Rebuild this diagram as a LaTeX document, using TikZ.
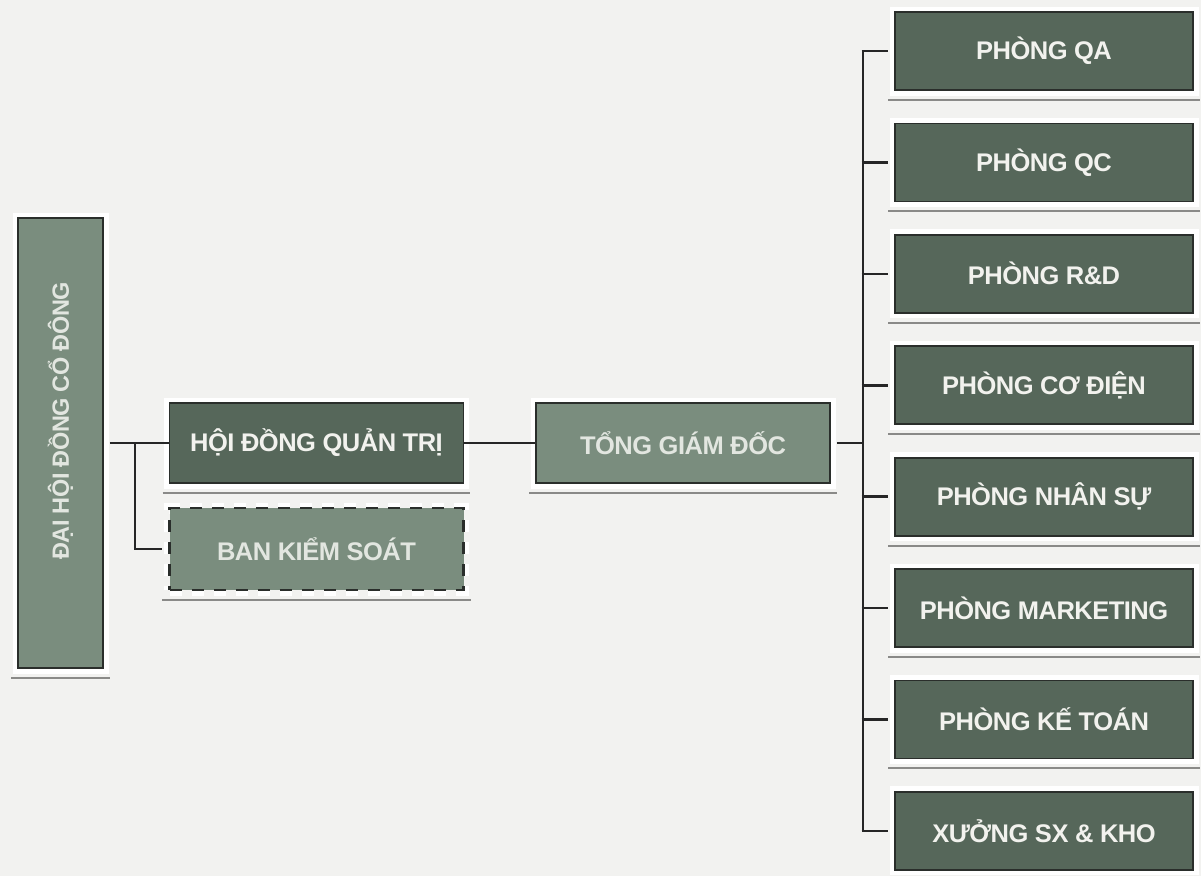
\documentclass[tikz,border=0pt]{standalone}
\usepackage{fontspec}
\setmainfont{Liberation Sans}
\newfontfamily\boxfont[LetterSpace=-2]{Liberation Sans}
\definecolor{bg}{HTML}{F2F2F0}
\definecolor{darkbox}{HTML}{56675A}
\definecolor{lightbox}{HTML}{7A8D7E}
\definecolor{edge}{HTML}{2A2E2B}
\definecolor{txt}{HTML}{F2F2EE}
\definecolor{txtlight}{HTML}{E2E6E0}
\definecolor{shade}{HTML}{8A8A88}
\begin{document}
\begin{tikzpicture}[x=1pt,y=-1pt,
  base/.style={draw=edge, line width=1.8pt, text=txt, inner sep=0pt,
    font=\boxfont\bfseries\fontsize{25.5}{28}\selectfont,
    preaction={draw=white, line width=11pt}},
  darkb/.style={base, fill=darkbox, minimum width=294pt, minimum height=80pt},
  lightb/.style={base, fill=lightbox, text=txtlight, minimum width=294pt, minimum height=80pt},
  deptb/.style={base, fill=darkbox, minimum width=298pt, minimum height=78pt},
  conn/.style={draw=black!85, line width=2.6pt},
  shadowline/.style={draw=shade, line width=2pt}]
\useasboundingbox[fill=bg] (0,0) rectangle (1201,876);

\node[base, fill=lightbox, text=txtlight, minimum width=85pt, minimum height=450pt,
  font=\boxfont\bfseries\fontsize{23.5}{26}\selectfont] (dh) at (60.5,443)
  {\rotatebox{90}{\hspace{44pt}ĐẠI HỘI ĐỒNG CỔ ĐÔNG}};
\node[darkb] (hd) at (316.5,443) {HỘI ĐỒNG QUẢN TRỊ};
\node[lightb, dashed, dash pattern=on 12pt off 10pt, line width=2.2pt, minimum height=82pt] (bk) at (316.5,549) {BAN KIỂM SOÁT};
\node[lightb] (tg) at (683,443) {TỔNG GIÁM ĐỐC};

\foreach \n/\t [count=\i from 0] in {qa/PHÒNG QA, qc/PHÒNG QC, rd/PHÒNG R\&D, cd/PHÒNG CƠ ĐIỆN,
  ns/PHÒNG NHÂN SỰ, mk/PHÒNG MARKETING, kt/PHÒNG KẾ TOÁN, sx/XƯỞNG SX \& KHO}
  \node[deptb] (\n) at (1044, 51+111.4*\i) {\t};

% shadow lines under boxes
\foreach \n in {dh,hd,bk,tg,qa,qc,rd,cd,ns,mk,kt,sx}
  \draw[shadowline] ([xshift=-6pt,yshift=-9pt]\n.south west) -- ([xshift=6pt,yshift=-9pt]\n.south east);

% connectors
\coordinate (lj) at (135,443);
\coordinate (lb) at (135,549);
\draw[conn] ([xshift=6pt]dh.east) -- (hd.west);
\draw[conn] (lj) -- (lb) -- ([xshift=-6pt]bk.west);
\draw[conn] (hd.east) -- (tg.west);
\coordinate (bus) at (863,443);
\draw[conn] ([xshift=6pt]tg.east) -- (bus);
\draw[conn] (bus |- qa.west) -- (bus |- sx.west);
\foreach \n in {qa,qc,rd,cd,ns,mk,kt,sx}
  \draw[conn] ([xshift=-1.3pt]bus |- \n.west) -- ([xshift=-6pt]\n.west);
\end{tikzpicture}
\end{document}
